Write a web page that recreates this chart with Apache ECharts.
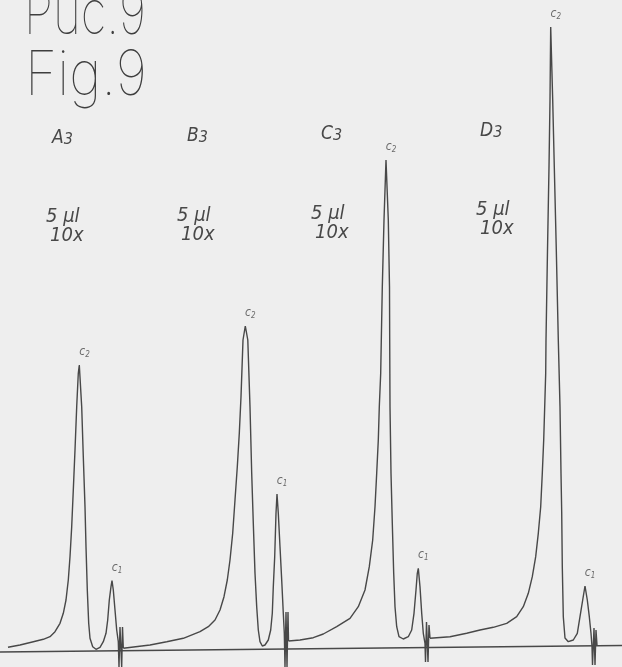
<!DOCTYPE html>
<html><head><meta charset="utf-8">
<script src="https://cdn.jsdelivr.net/npm/echarts@6/dist/echarts.min.js"></script>
<style>html,body{margin:0;padding:0;background:#eeeeee;}#c{width:622px;height:667px;}</style>
</head><body><div id="c"></div>
<script>
// time (x) / detector signal (y, baseline ~0)
var traceA3 = [[8,4.7],[20,7],[33.3,10.3],[43.3,12.7],[50,15.3],[55,20.3],[60,28.7],[63.3,38.7],[66,52],[68.3,72],[70,95.3],[71.7,125.3],[73.3,162],[75,202],[76.7,245.3],[78.3,278.7],[79.3,287],[80,287],[81.7,245.3],[83.3,195.3],[85,145.3],[86,105.3],[87.3,62],[88.7,28.7],[90,13.7],[92.7,5.3],[96,2.7],[100,4.7],[103.3,10.3],[106,18.7],[107.7,32],[109.3,52],[111,65.3],[112,71.3],[113.3,62],[115,42],[116.7,22],[118.3,10.3],[119,-15],[120,25],[121.7,-15],[122.5,25],[123.3,4]];
var traceB3 = [[123.3,3.7],[150,7],[166.7,10.3],[183.3,13.7],[200,20.3],[208.3,25.3],[215,32],[220,42],[224,55.3],[227.3,72],[230,92],[232.7,118.7],[235,152],[237.3,185.3],[239.3,218.7],[241,255.3],[242.3,292],[243,312],[245.3,326],[247.8,312],[250,245.3],[251.7,178.7],[253.3,128.7],[255,78.7],[256.7,45.3],[258.3,22],[260,10.3],[262.3,6],[265,7],[268.3,12],[270.7,22],[272.3,38.7],[273.3,65.3],[274.7,95.3],[276,138.7],[277,158],[278.3,138.7],[280,105.3],[281.7,72],[283.3,38.7],[284.3,18.7],[285,-15],[286,40],[287,-15],[288,40],[288.5,11]];
var traceC3 = [[288.5,11],[300,12],[313.3,14.3],[323.3,18],[336.7,25.3],[350,33.7],[358.3,45.3],[365,62],[369.3,85.3],[372.7,112],[375,145.3],[376.7,178.7],[378.3,212],[379.3,245.3],[380.7,278.7],[381.3,312],[382.3,365],[384,432],[386,492],[388.3,432],[389.5,365],[389.7,312],[390,245.3],[391,178.7],[392.3,128.7],[393.7,78.7],[395,45.3],[396.7,25.3],[399,15.3],[403.3,13],[408.3,15.3],[411.7,22],[414,38.7],[416,62],[417.3,78.7],[418.3,83.7],[420,65.3],[421.7,38.7],[423.3,18.7],[425,8.7],[425.5,-10],[426.5,30],[428,-10],[429,27],[430,14]];
var traceD3 = [[430,13.7],[450,15.3],[466.7,18.7],[480,22],[493.3,24.7],[506.7,28.7],[516.7,35.3],[523.3,45.3],[528.3,58.7],[532.3,75.3],[535.7,95.3],[538.3,118.7],[540.7,145.3],[542.3,178.7],[543.7,212],[544.7,245.3],[545.7,278.7],[546,312],[547.5,402],[549,485],[550,552],[550.7,625],[552.7,552],[554.3,485],[556.3,402],[558.3,312],[560,245.3],[561,178.7],[561.7,140],[562.3,85.3],[563.3,35.3],[565,14],[568.3,10.3],[573.3,12],[577.3,18.7],[580,35.3],[582.7,52],[585,66],[587.3,52],[589.3,35.3],[591,18.7],[592,5.3],[592.5,-13],[594,24],[595,-13],[596,22],[597,7]];
var baseline = [[0,0],[622,6.5]];
var peaksC2 = [[79.5,287],[245.3,326],[386,492],[550.7,625]];
var peaksC1 = [[112,71.3],[277,158],[418.3,83.7],[585,66]];
var sampleNames = ['A','B','C','D'];
var sampleSub = '3';
var volumeText = '5 \u03bcl';
var dilutionText = '10x';

var ink = '#484848';
var hand = "'DejaVu Sans Condensed','DejaVu Sans',sans-serif";
var chart = echarts.init(document.getElementById('c'), null, {renderer:'canvas'});

function lineSeries(name, data){
  return {name:name, type:'line', data:data, showSymbol:false, symbol:'none', smooth:false,
    lineStyle:{color:ink, width:1.4}, silent:true, animation:false, z:3};
}
function peakLabelSeries(data, sub){
  return {type:'scatter', data:data, symbolSize:0, silent:true, animation:false,
    label:{show:true, position:'top', offset:[5,-1],
      formatter:'{c|c}{s|'+sub+'}',
      rich:{c:{fontFamily:hand, fontStyle:'italic', fontSize:12, color:ink},
            s:{fontFamily:hand, fontStyle:'italic', fontSize:8, color:ink, padding:[6,0,0,0]}}}};
}

var sampleX = [52, 187, 321, 480];
var sampleY = [138, 136, 134, 131];
var volX = [46, 177, 311, 476];
var volY = [217, 216, 214, 210];
var g = [];
var titleFont = "Inter,'DejaVu Sans',sans-serif";
g.push({type:'text', x:24, y:-16, scaleX:0.77, style:{text:'Puc.9', fontFamily:titleFont, fontWeight:100, fontSize:62, fill:'#3e3e3e', verticalAlign:'top'}});
g.push({type:'text', x:25, y:45, scaleX:0.89, style:{text:'Fig.9', fontFamily:titleFont, fontWeight:100, fontSize:62, fill:'#3e3e3e', verticalAlign:'top'}});
for (var i=0;i<4;i++){
  g.push({type:'text', x:sampleX[i], y:sampleY[i], style:{text:'{a|'+sampleNames[i]+'}{b|'+sampleSub+'}', verticalAlign:'middle',
    rich:{a:{fontFamily:hand, fontStyle:'italic', fontSize:19, fill:ink, color:ink},
          b:{fontFamily:hand, fontStyle:'italic', fontSize:16, fill:ink, color:ink, padding:[4,0,0,0]}}}});
  g.push({type:'text', x:volX[i], y:volY[i], style:{text:volumeText, verticalAlign:'middle', fontFamily:hand, fontStyle:'italic', fontSize:20, fill:ink}});
  g.push({type:'text', x:volX[i]+4, y:volY[i]+19, style:{text:dilutionText, verticalAlign:'middle', fontFamily:hand, fontStyle:'italic', fontSize:20, fill:ink}});
}

chart.setOption({
  backgroundColor:'#eeeeee',
  animation:false,
  grid:{left:0,right:0,top:0,bottom:0},
  xAxis:{type:'value', min:0, max:622, show:false},
  yAxis:{type:'value', min:-15, max:652, show:false},
  series:[
    lineSeries('baseline', baseline),
    lineSeries('A3', traceA3),
    lineSeries('B3', traceB3),
    lineSeries('C3', traceC3),
    lineSeries('D3', traceD3),
    peakLabelSeries(peaksC2, '2'),
    peakLabelSeries(peaksC1, '1')
  ],
  graphic:g
});
</script></body></html>
